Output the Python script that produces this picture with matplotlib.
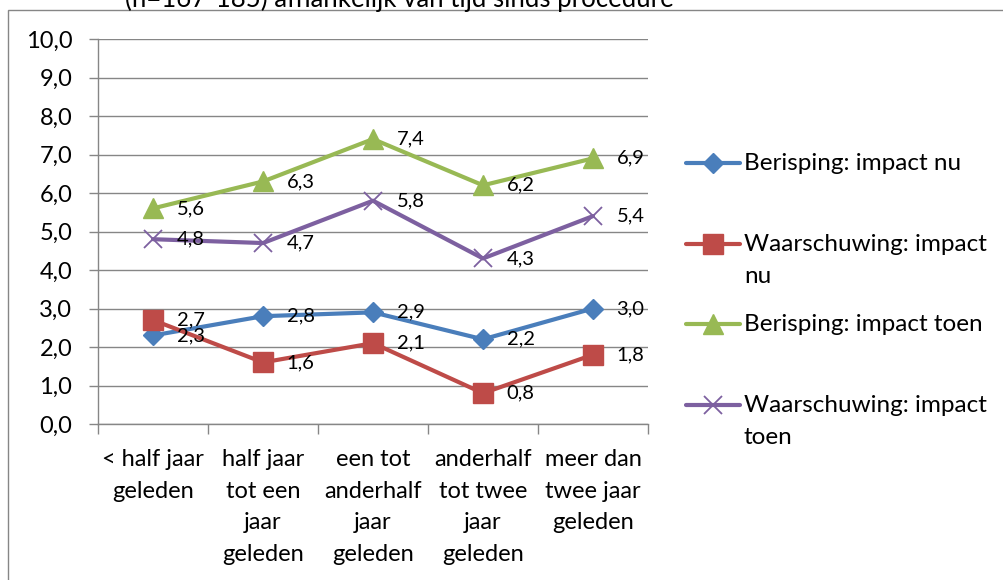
import matplotlib.pyplot as plt
from matplotlib.lines import Line2D
from matplotlib.patches import Rectangle

plt.rcParams['font.family'] = ['Lato', 'DejaVu Sans']

categories = ["< half jaar\ngeleden", "half jaar\ntot een\njaar\ngeleden",
              "een tot\nanderhalf\njaar\ngeleden", "anderhalf\ntot twee\njaar\ngeleden",
              "meer dan\ntwee jaar\ngeleden"]
berisping_nu = [2.3, 2.8, 2.9, 2.2, 3.0]
waarschuwing_nu = [2.7, 1.6, 2.1, 0.8, 1.8]
berisping_toen = [5.6, 6.3, 7.4, 6.2, 6.9]
waarschuwing_toen = [4.8, 4.7, 5.8, 4.3, 5.4]

series = [
    ("Berisping: impact nu", berisping_nu, '#4A7EBB', 'D', 10.5, None),
    ("Waarschuwing: impact\nnu", waarschuwing_nu, '#BE4B48', 's', 14, None),
    ("Berisping: impact toen", berisping_toen, '#98B954', '^', 15, None),
    ("Waarschuwing: impact\ntoen", waarschuwing_toen, '#7D60A0', 'x', 13, 1.3),
]

fig = plt.figure(figsize=(10.04, 5.8), dpi=100)
ax = fig.add_axes([98 / 1004, 1 - 424 / 580, 550 / 1004, 385 / 580])

x = list(range(len(categories)))
for label, vals, color, marker, ms, mew in series:
    kw = dict(markeredgewidth=mew) if mew else dict(markeredgecolor=color)
    ax.plot(x, vals, color=color, lw=3, marker=marker, markersize=ms,
            markerfacecolor=color, solid_capstyle='round', zorder=3, **kw)
for label, vals, color, marker, ms, mew in series:
    for xi, v in zip(x, vals):
        ax.annotate(f"{v:.1f}".replace('.', ','), (xi, v), xytext=(17, 0),
                    textcoords='offset points', ha='left', va='center',
                    fontsize=14.5, color='black', zorder=5)

ax.set_xlim(-0.5, len(categories) - 0.5)
ax.set_ylim(0, 10)
ax.set_yticks(range(0, 11))
ax.set_yticklabels([f"{v},0" for v in range(0, 11)])
ax.set_xticks(x)
ax.set_xticklabels(categories, linespacing=1.62)
ax.set_xticks([i - 0.5 for i in range(len(categories) + 1)], minor=True)
ax.tick_params(axis='x', which='major', length=0, pad=18, labelsize=17)
ax.tick_params(axis='x', which='minor', length=7, color='#868686', width=1)
ax.tick_params(axis='y', length=6.5, color='#868686', width=1, pad=12, labelsize=17)
ax.grid(axis='y', color='#868686', lw=1)
ax.set_axisbelow(True)
for s in ['top', 'right']:
    ax.spines[s].set_visible(False)
for s in ['left', 'bottom']:
    ax.spines[s].set_color('#868686')
    ax.spines[s].set_linewidth(1)

# legend drawn by hand, Excel style
legend_rows = [163, 244, 324, 405]
for (label, vals, color, marker, ms, mew), ry in zip(series, legend_rows):
    yf = 1 - ry / 580
    fig.add_artist(Line2D([686 / 1004, 740 / 1004], [yf, yf], color=color, lw=3,
                          solid_capstyle='round'))
    kw = dict(markeredgewidth=mew) if mew else dict(markeredgecolor=color)
    fig.add_artist(Line2D([713 / 1004], [yf], color=color, marker=marker,
                          markersize=ms, markerfacecolor=color, **kw))
    fig.text(744 / 1004, yf + 10 / 580, label, ha='left', va='top', fontsize=17.5,
             linespacing=1.62)

# chart border and cut-off title
fig.add_artist(Rectangle((8 / 1004, -0.1), 1.1, 1.1 - 10 / 580, fill=False,
                         edgecolor='#868686', lw=1, transform=fig.transFigure))
fig.text(125 / 1004, 1 - 7 / 580, "(n=167-185) afhankelijk van tijd sinds procedure",
         ha='left', va='baseline', fontsize=18.5)

fig.savefig('out.png', dpi=100)
